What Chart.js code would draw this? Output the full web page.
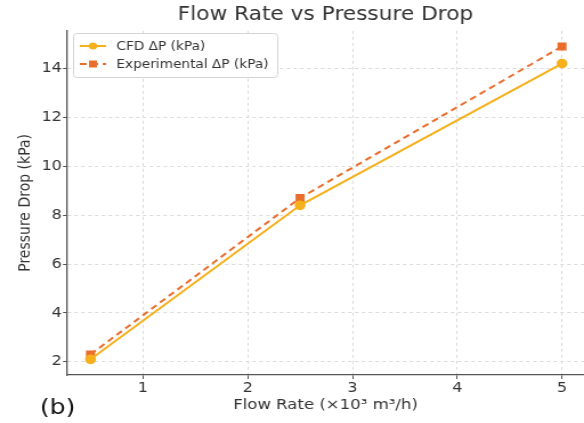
<!DOCTYPE html>
<html>
<head>
<meta charset="utf-8">
<script src="https://cdn.jsdelivr.net/npm/chart.js@4"></script>
<style>
  html, body { margin: 0; padding: 0; background: #fff; overflow: hidden; }
  /* the original figure's glyphs are a little wider than tall: stretch the canvas horizontally */
  #wrap { width: 512px; height: 423px; transform: scaleX(1.140625); transform-origin: 0 0; }
</style>
</head>
<body>
<div id="wrap"><canvas id="flowChart" width="512" height="423"></canvas></div>
<script>
// -----------------------------------------
// DATA
// -----------------------------------------
const flowRate = [0.5, 2.5, 5];          // x10^3 m3/h
const cfdDrop  = [2.1, 8.4, 14.2];       // kPa
const expDrop  = [2.3, 8.7, 14.9];       // kPa
const xTicks   = [1, 2, 3, 4, 5];
const yTicks   = [2, 4, 6, 8, 10, 12, 14];

const FONT = "'DejaVu Sans', sans-serif";
const TEXT = '#333';
const CFD_COLOR = '#F6B01C';
const EXP_COLOR = '#EA6D2C';

// -----------------------------------------
// Legend inside the plot (top-left) + panel tag
// -----------------------------------------
const insideLegend = {
  id: 'insideLegend',
  afterDraw(chart) {
    const ctx = chart.ctx;
    const x0 = 64, y0 = 33, w = 179, h = 44;
    ctx.save();
    ctx.fillStyle = 'rgba(255,255,255,0.9)';
    ctx.strokeStyle = '#d4d4d4';
    ctx.lineWidth = 1;
    ctx.beginPath();
    ctx.roundRect(x0 + 0.5, y0 + 0.5, w, h, 3);
    ctx.fill();
    ctx.stroke();

    chart.data.datasets.forEach((ds, i) => {
      const cy = y0 + 13 + i * 18;
      ctx.strokeStyle = ds.borderColor;
      ctx.lineWidth = 2;
      ctx.setLineDash(ds.borderDash || []);
      ctx.beginPath();
      ctx.moveTo(70, cy);
      ctx.lineTo(93, cy);
      ctx.stroke();
      ctx.setLineDash([]);
      ctx.fillStyle = ds.pointBackgroundColor;
      ctx.beginPath();
      if (ds.pointStyle === 'rect') ctx.rect(78, cy - 3.5, 7, 7);
      else ctx.arc(81.5, cy, 3.6, 0, Math.PI * 2);
      ctx.fill();

      ctx.fillStyle = TEXT;
      ctx.font = '12px ' + FONT;
      ctx.textBaseline = 'middle';
      ctx.fillText(ds.label, 102, cy + 1);
    });

    ctx.fillStyle = '#111';
    ctx.font = '22px ' + FONT;
    ctx.textBaseline = 'alphabetic';
    ctx.fillText('(b)', 35, 414);
    ctx.restore();
  }
};

new Chart(document.getElementById('flowChart'), {
  type: 'line',
  data: {
    datasets: [{
      label: 'CFD ΔP (kPa)',
      data: flowRate.map((x, i) => ({ x, y: cfdDrop[i] })),
      borderColor: CFD_COLOR,
      backgroundColor: CFD_COLOR,
      pointBackgroundColor: CFD_COLOR,
      pointBorderColor: CFD_COLOR,
      pointStyle: 'circle',
      pointRadius: 3.8,
      borderWidth: 2,
      tension: 0
    }, {
      label: 'Experimental ΔP (kPa)',
      data: flowRate.map((x, i) => ({ x, y: expDrop[i] })),
      borderColor: EXP_COLOR,
      backgroundColor: EXP_COLOR,
      pointBackgroundColor: EXP_COLOR,
      pointBorderColor: EXP_COLOR,
      pointStyle: 'rect',
      pointRadius: 4.2,
      borderWidth: 2,
      borderDash: [6, 4],
      tension: 0
    }]
  },
  options: {
    responsive: false,
    animation: false,
    layout: { padding: 0, autoPadding: false },
    plugins: {
      legend: { display: false },
      tooltip: { enabled: false },
      title: {
        display: true,
        text: 'Flow Rate vs Pressure Drop',
        fullSize: false,
        color: TEXT,
        font: { family: FONT, size: 19, weight: 'normal' },
        padding: { top: 4, bottom: 4 }
      }
    },
    scales: {
      x: {
        type: 'linear',
        min: 0.275,
        max: 5.21,
        afterBuildTicks: s => { s.ticks = xTicks.map(v => ({ value: v })); },
        afterFit: s => { s.height = 48; },
        grid: { color: '#dadada', tickLength: 4, tickColor: '#555', tickBorderDash: [] },
        border: { display: true, color: '#555', width: 1.3, dash: [3, 3] },
        ticks: { color: TEXT, font: { family: FONT, size: 14 }, padding: 1, maxRotation: 0 },
        title: {
          display: true,
          text: 'Flow Rate (×10³ m³/h)',
          color: TEXT,
          font: { family: FONT, size: 14.5 },
          padding: { top: 0, bottom: 9 }
        }
      },
      y: {
        type: 'linear',
        min: 1.46,
        max: 15.54,
        afterBuildTicks: s => { s.ticks = yTicks.map(v => ({ value: v })); },
        afterFit: s => { s.width = 58.7; },
        grid: { color: '#dadada', tickLength: 3.5, tickColor: '#555', tickBorderDash: [] },
        border: { display: true, color: '#555', width: 1.3, dash: [3, 3] },
        ticks: { color: TEXT, font: { family: FONT, size: 14 }, padding: 1 },
        title: {
          display: true,
          text: 'Pressure Drop (kPa)',
          color: TEXT,
          font: { family: FONT, size: 14 },
          padding: { top: 14, bottom: 0 }
        }
      }
    }
  },
  plugins: [insideLegend]
});
</script>
</body>
</html>
